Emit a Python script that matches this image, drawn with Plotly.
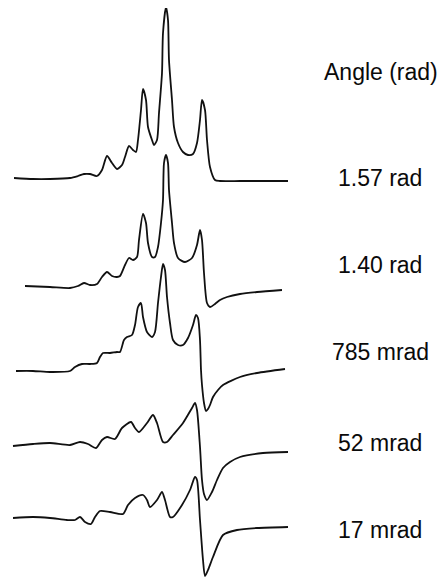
import plotly.graph_objects as go

# Field axis (arbitrary units) and intensity (arbitrary units, relative to each baseline)
labels = ["1.57 rad", "1.40 rad", "785 mrad", "52 mrad", "17 mrad"]
title_label = "Angle (rad)"

field_157 = [14, 33, 50, 70, 78, 84, 90, 97, 102, 107, 112, 117, 122, 125, 129, 133, 136, 138, 141, 143,
             146, 148, 152, 154, 157, 159, 162, 163, 166, 168, 169, 172, 174, 178, 183, 188, 193, 197,
             200, 202, 205, 207, 210, 215, 220, 240, 260, 288]
int_157 = [1, 0, 0, 1, 3, 5, 5, 3, 9, 23, 16, 10, 14, 22, 33, 29, 27, 39, 69, 90,
           79, 52, 39, 34, 39, 66, 106, 146, 172, 159, 119, 79, 52, 36, 27, 24, 25, 36,
           59, 79, 69, 39, 12, -1, -2, -2, -2, -2]

field_140 = [25, 50, 70, 78, 84, 90, 97, 102, 107, 112, 117, 120, 125, 129, 133, 137, 139, 143, 146, 148,
             152, 155, 158, 161, 163, 164, 166, 168, 169, 172, 174, 178, 185, 192, 197, 200, 202, 204,
             207, 210, 215, 220, 227, 240, 257, 282]
int_140 = [1, 0, -1, 1, 4, 2, 3, 10, 15, 11, 10, 11, 22, 29, 27, 30, 47, 73, 64, 44,
           30, 30, 40, 64, 87, 124, 132, 124, 97, 64, 44, 29, 25, 29, 42, 57, 47, 14,
           -16, -20, -17, -13, -10, -7, -5, -3]

field_785 = [16, 33, 50, 70, 75, 82, 90, 97, 100, 103, 110, 117, 120, 124, 127, 132, 135, 138, 141, 143,
             147, 152, 155, 158, 161, 163, 165, 167, 170, 173, 178, 183, 188, 193, 196, 198, 200, 201,
             202, 204, 206, 208, 210, 213, 218, 223, 240, 257, 285]
int_785 = [0, 0, -1, 0, 4, 7, 7, 8, 14, 18, 18, 19, 19, 31, 34, 36, 46, 64, 68, 54,
           39, 34, 39, 68, 94, 107, 101, 74, 48, 31, 26, 26, 33, 46, 56, 53, 31, 1,
           -14, -32, -40, -38, -34, -26, -19, -14, -6, -2, 2]

field_52 = [13, 33, 50, 70, 80, 88, 96, 102, 107, 115, 122, 131, 135, 139, 147, 153, 157, 163, 167, 173,
            183, 192, 195, 197, 200, 202, 204, 207, 212, 217, 223, 230, 240, 263, 288]
int_52 = [-2, 0, 1, -1, 2, 0, -4, 4, 7, 5, 16, 22, 16, 12, 21, 29, 21, 2, 2, 9,
          21, 36, 41, 34, -3, -36, -50, -56, -48, -36, -24, -18, -13, -9, -8]

field_17 = [13, 33, 50, 67, 75, 80, 85, 91, 95, 100, 110, 123, 128, 135, 143, 147, 150, 157, 162, 165,
            170, 173, 182, 190, 195, 197, 200, 203, 205, 208, 213, 223, 237, 257, 288]
int_17 = [0, 1, 0, -2, -2, 1, -4, -6, 1, 7, 6, 4, 13, 20, 23, 18, 11, 18, 26, 18,
          1, 1, 13, 28, 41, 38, -2, -42, -58, -52, -39, -17, -12, -10, -9]

# vertical stacking offsets of each spectrum baseline
offsets = [399, 291, 207, 134, 60]
label_levels = [400, 313, 226, 135, 48]
title_level = 506

fields = [field_157, field_140, field_785, field_52, field_17]
intens = [int_157, int_140, int_785, int_52, int_17]

fig = go.Figure()
for f, it, off in zip(fields, intens, offsets):
    fig.add_trace(go.Scatter(
        x=f, y=[off + v for v in it], mode="lines",
        line=dict(color="#111111", width=1.8, shape="spline", smoothing=0.7),
        hoverinfo="skip", showlegend=False))

font = dict(family="Liberation Sans, Arial, sans-serif", size=23, color="#0a0a0a")
annotations = [dict(x=381, y=title_level, text=title_label, showarrow=False,
                    xanchor="center", yanchor="middle", font=font)]
for lab, lev in zip(labels, label_levels):
    annotations.append(dict(x=380, y=lev, text=lab, showarrow=False,
                            xanchor="center", yanchor="middle", font=font))

fig.update_layout(
    width=438, height=570,
    margin=dict(l=0, r=0, t=0, b=0),
    paper_bgcolor="white", plot_bgcolor="white",
    xaxis=dict(range=[8, 446], visible=False, fixedrange=True),
    yaxis=dict(range=[0, 570], visible=False, fixedrange=True),
    annotations=annotations,
)

fig.write_html("out.html", config={"displayModeBar": False})
